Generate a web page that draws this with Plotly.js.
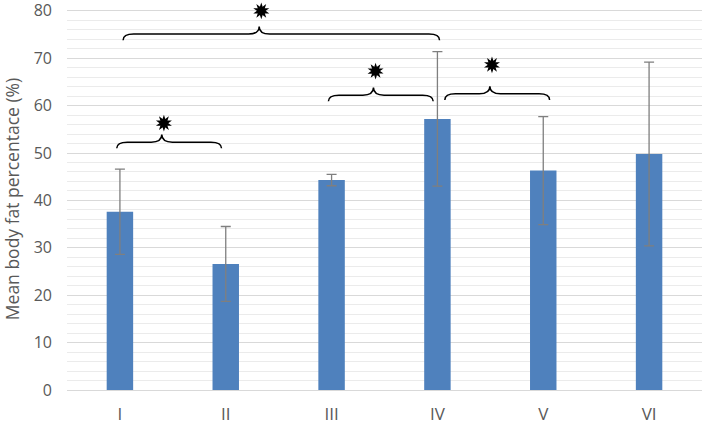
<!DOCTYPE html>
<html>
<head>
<meta charset="utf-8">
<script src="https://cdn.plot.ly/plotly-3.0.1.min.js"></script>
<style>html,body{margin:0;padding:0;background:#fff;}#chart{width:705px;height:425px;}</style>
</head>
<body>
<div id="chart"></div>
<script>
// Data
const groups = ["I", "II", "III", "IV", "V", "VI"];
const meanFat = [37.6, 26.6, 44.3, 57.2, 46.3, 49.8];
const sdFat = [9.0, 7.9, 1.2, 14.2, 11.4, 19.4];
const yTicks = [0, 10, 20, 30, 40, 50, 60, 70, 80];

// Significance comparisons (group pairs), brace tip level and star level
const compFrom = ["I", "I", "III", "IV"];
const compTo = ["II", "IV", "IV", "V"];
const braceLevel = [51.0, 73.8, 60.9, 61.2];
const starLevel = [56.3, 80.0, 67.3, 68.6];

// Drawing options (style / placement tweaks, not data)
const braceShift = [-0.03, 0.03, -0.03, 0.07];

const idx = g => groups.indexOf(g);
const groupPos = groups.map((g, i) => i);

// Build brace shapes through the data axes
const shapes = [];
const starX = [];
for (let i = 0; i < compFrom.length; i++) {
  const x0 = idx(compFrom[i]) + braceShift[i];
  const x1 = idx(compTo[i]) + braceShift[i] - 0.01;
  const y0 = braceLevel[i];
  const yh = y0 + 1.3;
  const yp = y0 + 2.9;
  const xp = x0 + 0.43 * (x1 - x0);
  const r = 0.1;
  const path = `M ${x0},${y0} Q ${x0},${yh} ${x0 + r},${yh} L ${xp - r},${yh} Q ${xp},${yh} ${xp},${yp} ` +
               `Q ${xp},${yh} ${xp + r},${yh} L ${x1 - r},${yh} Q ${x1},${yh} ${x1},${y0}`;
  shapes.push({type: "path", xref: "x", yref: "y", path: path, line: {color: "#000000", width: 1.5}, layer: "above"});
  starX.push(xp + 0.02);
}

function starTrace(angle) {
  return {
    type: "scatter",
    mode: "markers",
    x: starX,
    y: starLevel,
    marker: {symbol: "star", size: 12, color: "#000000", angle: angle, line: {width: 0}},
    cliponaxis: false,
    hoverinfo: "skip"
  };
}

const traces = [
  {
    type: "bar",
    x: groupPos,
    y: meanFat,
    width: 0.25,
    marker: {color: "#4f81bd"},
    error_y: {type: "data", array: sdFat, visible: true, color: "#7f7f7f", thickness: 1.3, width: 5},
    hovertext: groups,
    hoverinfo: "text+y"
  },
  starTrace(0),
  starTrace(36)
];

const layout = {
  width: 705,
  height: 425,
  margin: {l: 67, r: 3, t: 8, b: 35},
  paper_bgcolor: "#ffffff",
  plot_bgcolor: "#ffffff",
  showlegend: false,
  font: {family: "Open Sans, Noto Sans, sans-serif", color: "#595959"},
  xaxis: {
    type: "linear",
    range: [-0.5, 5.5],
    tickmode: "array",
    tickvals: groupPos,
    ticktext: groups,
    showgrid: false,
    showline: true,
    mirror: false,
    linecolor: "#d9d9d9",
    linewidth: 1,
    ticks: "",
    tickfont: {size: 17, color: "#595959"},
    ticklabelstandoff: 9,
    zeroline: false
  },
  yaxis: {
    range: [0, 80.6],
    tickmode: "array",
    tickvals: yTicks,
    ticktext: yTicks.map(String),
    ticklabeloverflow: "allow",
    showgrid: true,
    gridcolor: "#d9d9d9",
    gridwidth: 1,
    minor: {tickmode: "linear", tick0: 0, dtick: 2, showgrid: true, gridcolor: "#ebebeb", gridwidth: 1, ticks: ""},
    zeroline: false,
    showline: false,
    mirror: false,
    linecolor: "rgba(0,0,0,0)",
    ticks: "",
    tickfont: {size: 16, color: "#595959"},
    ticklabelstandoff: 14,
    title: {text: "Mean body fat percentace (%)", font: {size: 17.5, color: "#595959"}, standoff: 9}
  },
  shapes: shapes
};

Plotly.newPlot("chart", traces, layout, {displayModeBar: false, staticPlot: true});
</script>
</body>
</html>
